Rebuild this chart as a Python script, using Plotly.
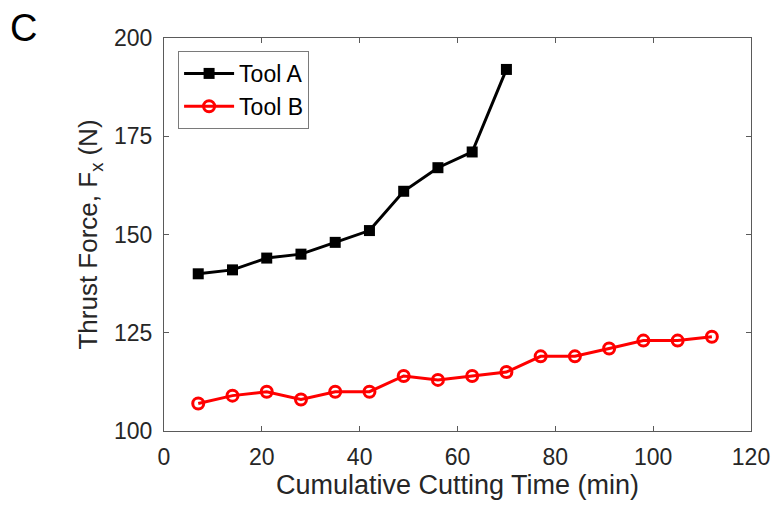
import plotly.graph_objects as go

# Cumulative cutting time (min) and thrust force (N) for each tool
time_a = [7, 14, 21, 28, 35, 42, 49, 56, 63, 70]
force_a = [140, 141, 144, 145, 148, 151, 161, 167, 171, 192]

time_b = [7, 14, 21, 28, 35, 42, 49, 56, 63, 70, 77, 84, 91, 98, 105, 112]
force_b = [107, 109, 110, 108, 110, 110, 114, 113, 114, 115, 119, 119, 121, 123, 123, 124]

x_ticks = [0, 20, 40, 60, 80, 100, 120]
y_ticks = [100, 125, 150, 175, 200]

FONT = "Liberation Sans, Arial, sans-serif"
TEXT_COLOR = "#262626"
AXIS_COLOR = "#5a5a5a"

fig = go.Figure()
fig.add_trace(go.Scatter(
    x=time_a, y=force_a, mode="lines+markers", name="Tool A",
    line=dict(color="black", width=3),
    marker=dict(symbol="square", size=11, color="black"),
))
fig.add_trace(go.Scatter(
    x=time_b, y=force_b, mode="lines+markers", name="Tool B",
    line=dict(color="red", width=3),
    marker=dict(symbol="circle-open", size=11, color="red", line=dict(width=3, color="red")),
))

axis_common = dict(
    showline=True, linecolor=AXIS_COLOR, linewidth=1, mirror="ticks",
    ticks="inside", ticklen=5, tickcolor=AXIS_COLOR, tickwidth=1,
    showgrid=False, zeroline=False, automargin=False,
    tickfont=dict(family=FONT, size=23, color=TEXT_COLOR),
)

fig.update_layout(
    width=774, height=506,
    margin=dict(l=164, r=23, t=38, b=75),
    plot_bgcolor="white", paper_bgcolor="white",
    font=dict(family=FONT, color=TEXT_COLOR),
    xaxis=dict(range=[0, 120], tickvals=x_ticks, ticklabelstandoff=5, **axis_common,
               title=dict(text="Cumulative Cutting Time (min)",
                          font=dict(family=FONT, size=27, color=TEXT_COLOR), standoff=6)),
    yaxis=dict(range=[100, 200], tickvals=y_ticks, ticklabelstandoff=6, **axis_common,
               title=dict(text="Thrust Force, F<sub>x</sub> (N)",
                          font=dict(family=FONT, size=26, color=TEXT_COLOR), standoff=8)),
    legend=dict(x=0.024, y=0.967, xanchor="left", yanchor="top",
                bgcolor="white", bordercolor="#7a7a7a", borderwidth=1,
                font=dict(family=FONT, size=23, color="black"),
                itemwidth=50, tracegroupgap=0),
    showlegend=True,
)

fig.add_annotation(text="C", xref="paper", yref="paper", x=-0.265, y=1.085,
                   xanchor="left", yanchor="top", showarrow=False,
                   font=dict(family=FONT, size=38, color="black"))

fig.write_html("out.html")
